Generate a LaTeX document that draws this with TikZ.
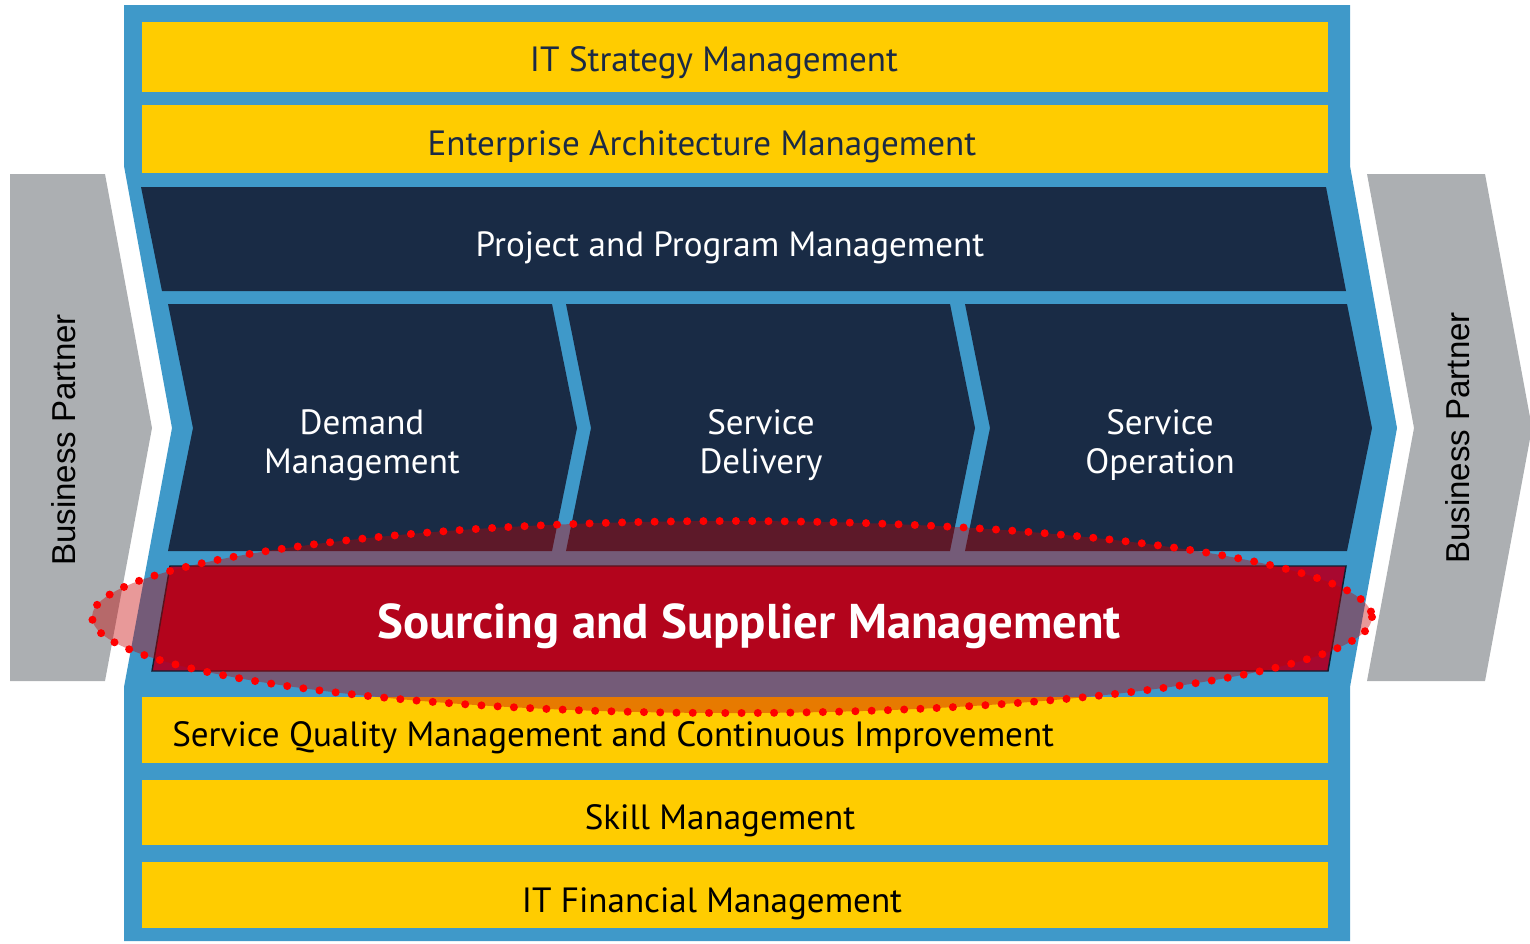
\documentclass[tikz,border=0pt]{standalone}
\usepackage{fontspec}
\setmainfont{PT Sans}
\newfontfamily\arialfont{Liberation Sans}
\definecolor{frameblue}{RGB}{63,153,201}
\definecolor{boxyellow}{RGB}{255,204,0}
\definecolor{navy}{RGB}{25,43,69}
\definecolor{bpgray}{RGB}{172,175,178}
\definecolor{redbox}{RGB}{168,8,48}
\definecolor{ellred}{RGB}{197,0,0}
\definecolor{dotred}{RGB}{255,0,0}
\definecolor{navytext}{RGB}{27,42,69}
\tikzset{
  ybox/.style={fill=boxyellow},
  nbox/.style={fill=navy},
  ytext/.style={font=\fontsize{26.3}{31}\selectfont, inner sep=0pt, anchor=center},
  ntext/.style={font=\fontsize{26.3}{29.5}\selectfont, text=white, inner sep=0pt, align=center},
  bptext/.style={font=\arialfont\fontsize{24.8}{28}\selectfont, rotate=90, inner sep=0pt},
}
\begin{document}
\begin{tikzpicture}[x=0.75pt,y=-0.75pt]
\useasboundingbox (0,0) rectangle (1530,943);
% business partner arrows
\fill[bpgray] (10,174) -- (105,174) -- (152,428) -- (105,681) -- (10,681) -- cycle;
\fill[bpgray] (1367,174) -- (1485,174) -- (1532,428) -- (1485,681) -- (1367,681) -- (1414,428) -- cycle;
\node[bptext] (bpl) at (64,440) {Business Partner};
\node[bptext] (bpr) at (1458,438) {Business Partner};
% blue frame
\fill[frameblue] (124,5) -- (1350,5) -- (1350,166) -- (1397,428) -- (1350,687) -- (1350,941)
  -- (124,941) -- (124,687) -- (172,428) -- (124,166) -- cycle;
% yellow top boxes
\fill[ybox] (142,22) rectangle (1328,92);
\fill[ybox] (142,105) rectangle (1328,173);
\node[ytext, text=navytext] (its) at (714,63) {IT Strategy Management};
\node[ytext, text=navytext] (eam) at (702,147) {Enterprise Architecture Management};
% project and program
\fill[nbox] (141,187) -- (1326,187) -- (1346,291) -- (162,291) -- cycle;
\node[ntext] (ppm) at (730,248) {Project and Program Management};
% chevrons
\fill[nbox] (168,304) -- (552,304) -- (577,428) -- (552,551) -- (168,551) -- (193,428) -- cycle;
\fill[nbox] (566,304) -- (950,304) -- (975,428) -- (950,551) -- (566,551) -- (591,428) -- cycle;
\fill[nbox] (965,304) -- (1347,304) -- (1372,428) -- (1347,551) -- (965,551) -- (990,428) -- cycle;
\node[ntext] (dm) at (362,445) {Demand\\Management};
\node[ntext] (sd) at (761,445) {Service\\Delivery};
\node[ntext] (so) at (1160,445) {Service\\Operation};
% bottom yellow boxes
\fill[ybox] (142,697) rectangle (1328,763);
\fill[ybox] (142,780) rectangle (1328,845);
\fill[ybox] (142,862) rectangle (1328,928);
\node[ytext, anchor=west, text=black] (sqm) at (172,738) {Service Quality Management and Continuous Improvement};
\node[ytext, text=black] (skm) at (720,821) {Skill Management};
\node[ytext, text=black] (ifm) at (712,904) {IT Financial Management};
% sourcing box
\filldraw[fill=redbox, draw=navy!70!black, line width=1.1pt] (170,566) -- (1346,566) -- (1328,671) -- (152,671) -- cycle;
% highlight ellipse
\fill[ellred, fill opacity=0.4] (732,617) ellipse [x radius=640, y radius=96];
\draw[dotred, line width=6pt, line cap=round, dash pattern=on 0pt off 12.2pt] (732,617) ellipse [x radius=640, y radius=96];
\node[font=\bfseries\fontsize{36.6}{40}\selectfont, text=white, inner sep=0pt] (ssm) at (749,626) {Sourcing and Supplier Management};
\end{tikzpicture}
\end{document}
